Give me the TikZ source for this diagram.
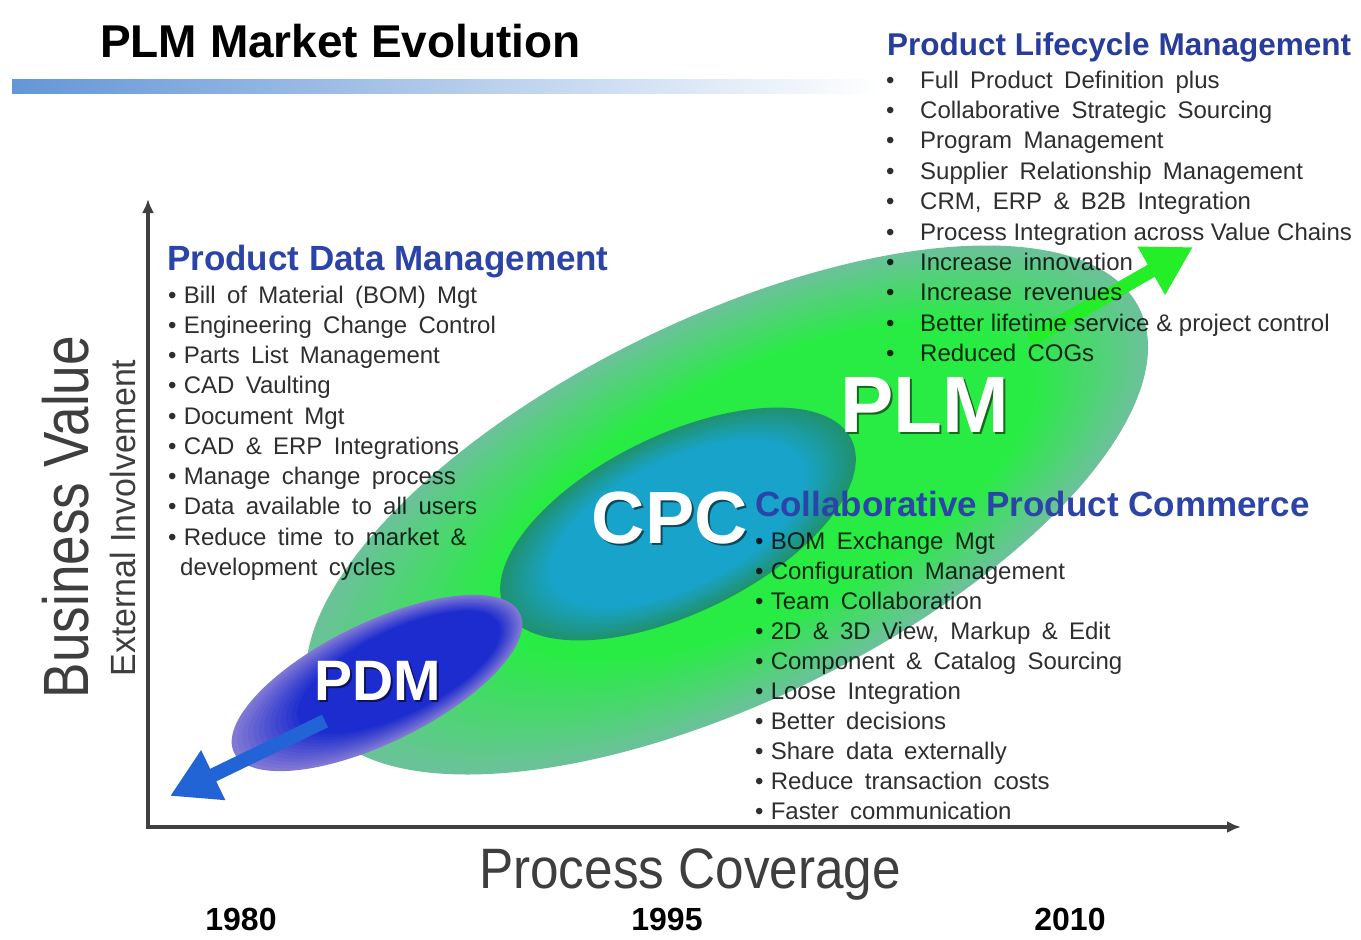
\documentclass[tikz,border=0pt]{standalone}
\usepackage{fontspec}
\setmainfont{Liberation Sans}
\newfontfamily\listfont[WordSpace=1.7]{Liberation Sans}
\usepackage{graphicx}
\usetikzlibrary{arrows.meta}

\definecolor{axisgray}{RGB}{64,64,64}
\definecolor{headblue}{RGB}{44,68,168}
\definecolor{plmheadblue}{RGB}{40,60,155}
\definecolor{barblue}{RGB}{100,150,214}
\definecolor{barmid}{RGB}{172,200,236}
\definecolor{plmbright}{RGB}{40,236,68}
\definecolor{plmedge}{RGB}{106,194,152}
\definecolor{cpcin}{RGB}{24,164,202}
\definecolor{cpcedge}{RGB}{32,146,112}
\definecolor{pdmin}{RGB}{28,44,206}
\definecolor{pdmedge}{RGB}{128,120,212}
\definecolor{arrowblue}{RGB}{34,100,214}
\definecolor{arrowgreen}{RGB}{36,238,40}
\definecolor{labelgray}{RGB}{62,62,62}

\tikzset{
  listitem/.style={font=\listfont\fontsize{24}{28}\selectfont, text=black, text opacity=0.82, anchor=base west, inner sep=0pt},
  heading/.style={font=\fontsize{35}{40}\selectfont\bfseries, text=headblue, anchor=base west, inner sep=0pt},
  biglabel/.style={text=white, anchor=base, inner sep=0pt},
  bigshadow/.style={text=black, text opacity=0.55, anchor=base, inner sep=0pt},
  yearlabel/.style={font=\fontsize{32}{36}\selectfont\bfseries, text=black, anchor=base, inner sep=0pt},
  axisline/.style={line width=3.5pt, draw=axisgray, line join=miter, {Latex[length=14pt,width=12pt]}-{Latex[length=14pt,width=12pt]}},
  bigarrow/.style={line width=14pt, -{Triangle[length=48pt,width=52pt]}}
}

\begin{document}
\begin{tikzpicture}[x=1pt,y=-1pt]
\useasboundingbox (0,0) rectangle (1361,940);
\clip (0,0) rectangle (1361,940);
\fill[white] (0,0) rectangle (1361,940);

% title bar
\shade[left color=barblue, middle color=barmid, right color=white] (12,79) rectangle (880,93);

% PLM ellipse: layered radial fade
\begin{scope}[shift={(727,510)}, rotate=26]
  \foreach \k in {0,...,30}{
    \pgfmathsetmacro\s{1-0.021*\k}
    \pgfmathtruncatemacro\p{min(100,\k*100/17)}
    \fill[plmbright!\p!plmedge] ({2.5*\k},0) ellipse [x radius={459*\s}, y radius={191*\s}];
  }
\end{scope}
% CPC ellipse
\begin{scope}[shift={(678,524)}, rotate=26]
  \foreach \k in {0,...,24}{
    \pgfmathsetmacro\s{1-0.02*\k}
    \pgfmathtruncatemacro\p{min(100,\k*100/14)}
    \fill[cpcin!\p!cpcedge] (0,0) ellipse [x radius={193*\s}, y radius={89*\s}];
  }
\end{scope}
% PDM ellipse
\begin{scope}[shift={(377,683)}, rotate=26]
  \foreach \k in {0,...,24}{
    \pgfmathsetmacro\s{1-0.025*\k}
    \pgfmathtruncatemacro\p{min(100,\k*100/12)}
    \fill[pdmin!\p!pdmedge] ({2*\k},0) ellipse [x radius={159*\s}, y radius={60*\s}];
  }
\end{scope}

% direction arrows
\coordinate (bluestart) at (325,721);
\coordinate (bluetip) at (170,796);
\draw[bigarrow, draw=arrowblue, fill=arrowblue] (bluestart) -- (bluetip);
\coordinate (greenstart) at (1030,340);
\coordinate (greentip) at (1193,247);
\draw[bigarrow, draw=arrowgreen, fill=arrowgreen] (greenstart) -- (greentip);

% axes
\coordinate (origin) at (148,827);
\coordinate (ytop) at (148,199);
\coordinate (xend) at (1241,827);
\draw[axisline] (ytop) -- (origin) -- (xend);

% title
\node[font=\fontsize{46}{50}\selectfont\bfseries, anchor=base west, inner sep=0pt] (title) at (100,57) {PLM Market Evolution};

% axis labels
\node[font=\fontsize{64}{70}\selectfont, text=labelgray, rotate=90, anchor=base, inner sep=0pt] (bv) at (88,517) {\scalebox{0.83}[1]{Business Value}};
\node[font=\fontsize{35}{40}\selectfont, text=labelgray, rotate=90, anchor=base, inner sep=0pt] (ei) at (135,518) {\scalebox{0.97}[1]{External Involvement}};
\node[font=\fontsize{57}{62}\selectfont, text=labelgray, anchor=base, inner sep=0pt] (pc) at (690,888) {\scalebox{0.9}[1]{Process Coverage}};

% years
\node[yearlabel] (y1980) at (241,930) {1980};
\node[yearlabel] (y1995) at (667,930) {1995};
\node[yearlabel] (y2010) at (1070,930) {2010};

% big labels
\node[bigshadow, font=\fontsize{80}{84}\selectfont\bfseries] (plmsh) at (927,434) {PLM};
\node[biglabel, font=\fontsize{80}{84}\selectfont\bfseries] (plm) at (925,432) {PLM};
\node[bigshadow, font=\fontsize{74}{78}\selectfont\bfseries] (cpcsh) at (672,545) {CPC};
\node[biglabel, font=\fontsize{74}{78}\selectfont\bfseries] (cpc) at (670,543) {CPC};
\node[bigshadow, font=\fontsize{57}{60}\selectfont\bfseries] (pdmsh) at (380,702) {PDM};
\node[biglabel, font=\fontsize{57}{60}\selectfont\bfseries] (pdm) at (378,700) {PDM};

% headings
\node[heading] (pdmhead) at (167,270) {Product Data Management};
\node[heading] (cpchead) at (755,516) {Collaborative Product Commerce};
\node[heading, font=\fontsize{31.5}{36}\selectfont\bfseries, text=plmheadblue] (plmhead) at (887,55) {Product Lifecycle Management};

% PDM list
\foreach \t [count=\i] in {Bill of Material (BOM) Mgt, Engineering Change Control, Parts List Management, CAD Vaulting, Document Mgt, CAD \& ERP Integrations, Manage change process, Data available to all users, Reduce time to market \&}
  \node[listitem] (pdmitem\i) at (168,{303+30.25*(\i-1)}) {•\hspace{0.3em}\t};
\node[listitem] (pdmitem10) at (180,575) {development cycles};

% CPC list
\foreach \t [count=\i] in {BOM Exchange Mgt, Configuration Management, Team Collaboration, {2D \& 3D View, Markup \& Edit}, Component \& Catalog Sourcing, Loose Integration, Better decisions, Share data externally, Reduce transaction costs, Faster communication}
  \node[listitem] (cpcitem\i) at (755,{549+30.1*(\i-1)}) {•\hspace{0.3em}\t};

% PLM list
\foreach \t [count=\i] in {Full Product Definition plus, Collaborative Strategic Sourcing, Program Management, Supplier Relationship Management, {CRM, ERP \& B2B Integration}, {\rmfamily Process Integration across Value Chains}, Increase innovation, Increase revenues, {\rmfamily Better lifetime service \& project control}, Reduced COGs}
  \node[listitem] (plmitem\i) at (886,{88+30.4*(\i-1)}) {\makebox[34pt][l]{•}\t};

\end{tikzpicture}
\end{document}
